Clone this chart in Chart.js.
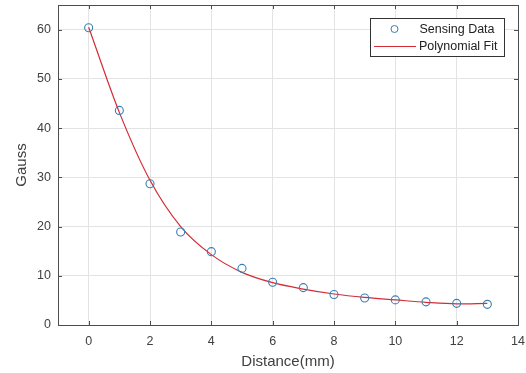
<!DOCTYPE html>
<html><head><meta charset="utf-8">
<script src="https://cdn.jsdelivr.net/npm/chart.js@4/dist/chart.umd.min.js"></script>
<style>html,body{margin:0;padding:0;background:#fff}#wrap{width:526px;height:373px}</style>
</head><body><div id="wrap"><canvas id="c" width="526" height="373"></canvas></div>
<script>
const distance = [0,1,2,3,4,5,6,7,8,9,10,11,12,13];
const sensing = [60.4,43.6,28.7,18.9,14.9,11.5,8.7,7.6,6.2,5.5,5.1,4.7,4.4,4.2];
const fitX = [0,1,2,3,4,5,6,7,8,9,10,11,12,13];
const fitY = [60.5,43.2,29.4,20.0,14.3,10.7,8.6,7.3,6.3,5.6,5.1,4.6,4.3,4.4];
const xTicks = [0,2,4,6,8,10,12,14];
const yTicks = [0,10,20,30,40,50,60];
const seriesNames = ['Sensing Data','Polynomial Fit'];
const axisTitles = {x:'Distance(mm)', y:'Gauss'};

const FONT = '"Liberation Sans", Arial, sans-serif';
const AX = '#4d4d4d';
const TXT = '#404040';
const BLUE = '#3a7fb3';
const RED = '#d42c35';

const frame = {
  id:'frame',
  afterDraw(chart){
    const {ctx, chartArea:a, scales:{x,y}} = chart;
    ctx.save();
    ctx.strokeStyle = AX; ctx.lineWidth = 1;
    ctx.strokeRect(Math.round(a.left)+0.5, Math.round(a.top)+0.5, Math.round(a.right-a.left), Math.round(a.bottom-a.top));
    ctx.beginPath();
    xTicks.forEach(v=>{const px=Math.round(x.getPixelForValue(v))+0.5;
      ctx.moveTo(px,a.bottom); ctx.lineTo(px,a.bottom-4);
      ctx.moveTo(px,a.top); ctx.lineTo(px,a.top+4);});
    yTicks.forEach(v=>{const py=Math.round(y.getPixelForValue(v))+0.5;
      ctx.moveTo(a.left,py); ctx.lineTo(a.left+4,py);
      ctx.moveTo(a.right,py); ctx.lineTo(a.right-4,py);});
    ctx.stroke();
    // legend
    const L=370,T=18,W=134,H=38;
    ctx.fillStyle='#fff'; ctx.fillRect(L,T,W,H);
    ctx.strokeStyle='#333'; ctx.strokeRect(L+0.5,T+0.5,W,H);
    ctx.beginPath(); ctx.strokeStyle=BLUE; ctx.lineWidth=1;
    ctx.arc(394.5,29,3.5,0,Math.PI*2); ctx.stroke();
    ctx.beginPath(); ctx.strokeStyle=RED; ctx.moveTo(374,46.5); ctx.lineTo(416,46.5); ctx.stroke();
    ctx.fillStyle='#222'; ctx.font='12.5px '+FONT; ctx.textBaseline='middle'; ctx.textAlign='left';
    ctx.fillText(seriesNames[0],419.5,29.5);
    ctx.fillText(seriesNames[1],419,46.5);
    ctx.restore();
  }
};

new Chart(document.getElementById('c'),{
  type:'scatter',
  data:{datasets:[
    {label:seriesNames[1], type:'line', data:fitX.map((v,i)=>({x:v,y:fitY[i]})),
     borderColor:RED, borderWidth:1.2, pointRadius:0, tension:0.4, cubicInterpolationMode:'monotone', fill:false, order:2},
    {label:seriesNames[0], data:distance.map((v,i)=>({x:v,y:sensing[i]})),
     pointStyle:'circle', pointRadius:4, pointBorderWidth:1.1, pointBorderColor:BLUE, pointBackgroundColor:'rgba(0,0,0,0)', order:1}
  ]},
  options:{
    responsive:false, animation:false, devicePixelRatio:1,
    layout:{padding:{top:5,right:8,left:0,bottom:0}},
    plugins:{legend:{display:false}, tooltip:{enabled:false}},
    scales:{
      x:{type:'linear', min:-1, max:14,
        afterBuildTicks(s){s.ticks=xTicks.map(v=>({value:v}));},
        afterFit(s){s.height=48; s.paddingLeft=0; s.paddingRight=0;},
        grid:{color:'#e3e3e3', drawTicks:false},
        border:{display:false},
        ticks:{color:TXT, font:{family:FONT,size:12.5}, padding:9, maxRotation:0},
        title:{display:true, text:axisTitles.x, color:TXT, font:{family:FONT,size:15}, padding:{top:0,bottom:2}}},
      y:{type:'linear', min:0, max:65,
        afterBuildTicks(s){s.ticks=yTicks.map(v=>({value:v}));},
        afterFit(s){s.width=58; s.paddingTop=0; s.paddingBottom=0;},
        grid:{color:'#e3e3e3', drawTicks:false},
        border:{display:false},
        ticks:{color:TXT, font:{family:FONT,size:12.5}, padding:7},
        title:{display:true, text:axisTitles.y, color:TXT, font:{family:FONT,size:15}, padding:{top:13,bottom:0}}}
    }
  },
  plugins:[frame]
});
</script></body></html>
